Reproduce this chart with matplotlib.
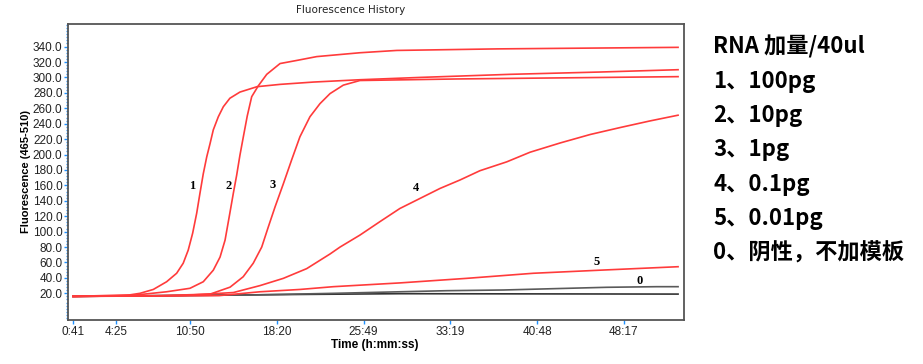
import numpy as np
import matplotlib.pyplot as plt
from matplotlib.ticker import FuncFormatter, MultipleLocator

# time in seconds, fluorescence values
t1 = [43, 338, 390, 459, 528, 580, 614, 640, 663, 684, 701, 718, 736, 753, 770, 796, 822, 856,
      908, 997, 1117, 1290, 1530, 1841, 2308, 2775, 3179]
f1 = [16, 18, 20, 25, 35, 46, 59, 76, 98, 124, 150, 175, 197, 214, 232, 249, 262, 273,
      281, 288, 291, 294, 297, 300, 304, 307, 310]

t2 = [43, 338, 528, 649, 718, 770, 805, 831, 853, 874, 891, 908, 925, 946, 969, 1003, 1047,
      1116, 1202, 1306, 1530, 1721, 2241, 3179]
f2 = [16, 17, 22, 26.5, 35, 50, 67, 89, 120, 150, 173, 199, 222, 250, 275, 289, 304,
      318, 322, 327, 332, 335, 337, 339]

t3 = [43, 500, 754, 857, 925, 977, 1021, 1055, 1090, 1133, 1176, 1219, 1271, 1323, 1375, 1444,
      1530, 2033, 3179]
f3 = [16, 17, 19, 28, 41.5, 59, 80, 106, 132, 162, 193, 223, 249, 266, 279, 290,
      296, 298, 301]

t4 = [43, 600, 874, 1012, 1133, 1254, 1375, 1427, 1530, 1634, 1737, 1841, 1945, 2049, 2152,
      2291, 2412, 2568, 2724, 2879, 3034, 3179]
f4 = [16, 17, 21, 30, 39.4, 52, 71, 80, 95.5, 113, 130, 143, 156, 167, 179,
      190.5, 203, 215, 226, 235, 243.6, 251]

t5 = [43, 800, 1012, 1219, 1392, 1738, 2083, 2429, 2775, 3179]
f5 = [16, 17, 22, 25, 28.6, 33.5, 39.4, 46, 50, 54.5]

t_neg1 = [43, 1000, 1400, 1738, 1980, 2273, 2532, 2809, 3068, 3179]
f_neg1 = [16, 18, 20, 22, 23.4, 24.3, 26, 27.8, 28.6, 28.6]

t_neg2 = [43, 1200, 1738, 3179]
f_neg2 = [16, 18.5, 19.5, 19]

curve_labels = ["1", "2", "3", "4", "5", "0"]
label_t = [663, 848, 1078, 1819, 2757, 2982]
label_f = [159, 159, 160, 157, 61, 36]

xtick_secs = [41, 265, 650, 1100, 1549, 1999, 2448, 2897]
legend_lines = ["RNA 加量/40ul", "1、100pg", "2、10pg", "3、1pg", "4、0.1pg", "5、0.01pg", "0、阴性，不加模板"]


def fmt_time(v, pos=None):
    v = int(round(v))
    return f"{v // 60}:{v % 60:02d}"


fig = plt.figure(figsize=(9.23, 3.64), dpi=100)
ax = fig.add_axes([0.0737, 0.1209, 0.6674, 0.8132])

red = "#ff3b3b"
ax.plot(t_neg2, f_neg2, color="#333333", lw=1.2)
ax.plot(t_neg1, f_neg1, color="#5a5a5a", lw=1.2)
for t, f in [(t5, f5), (t4, f4), (t3, f3), (t2, f2), (t1, f1)]:
    ax.plot(t, f, color=red, lw=1.2)

for s, x, y in zip(curve_labels, label_t, label_f):
    ax.text(x, y, s, fontsize=9, fontweight="bold", family="Liberation Serif",
            ha="center", va="center")

ax.set_xlim(17, 3210)
ax.set_ylim(-14.6, 369.3)
ax.set_xticks(xtick_secs)
ax.xaxis.set_major_formatter(FuncFormatter(fmt_time))
ax.set_yticks(np.arange(20, 341, 20))
ax.yaxis.set_major_formatter(FuncFormatter(lambda v, p: f"{v:.1f}"))
ax.yaxis.set_minor_locator(MultipleLocator(4))

ax.tick_params(axis="both", which="major", colors="#1e90ff", length=3, width=1,
               labelcolor="#222222", labelsize=8.5, pad=1)
ax.tick_params(axis="y", which="minor", colors="#1e90ff", length=1.5, width=1)
for lab in ax.get_xticklabels() + ax.get_yticklabels():
    lab.set_family("Liberation Sans")

for sp in ax.spines.values():
    sp.set_color("#555555")
    sp.set_linewidth(1.3)

fig.text(0.0285, 0.53, "Fluorescence (465-510)", rotation=90, fontsize=8,
         fontweight="bold", family="Liberation Sans", ha="center", va="center")
fig.text(0.406, 0.052, "Time (h:mm:ss)", fontsize=8.5, fontweight="bold",
         family="Liberation Sans", ha="center", va="center")
fig.text(0.38, 0.972, "Fluorescence History", fontsize=7.5, family="DejaVu Sans",
         ha="center", va="center", color="#222222")

y0 = 47
for i, line in enumerate(legend_lines):
    fig.text(713 / 923, 1 - (y0 + i * 34.3) / 364, line, fontsize=16, fontweight="bold",
             family=["Noto Sans CJK SC", "DejaVu Sans"], ha="left", va="center")

fig.savefig("out.png", dpi=100)
